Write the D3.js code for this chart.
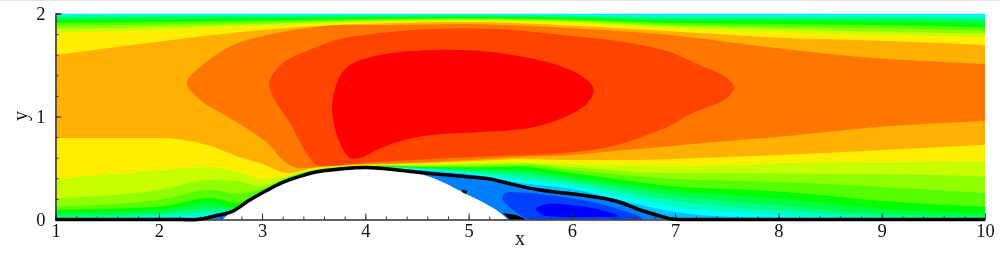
<!DOCTYPE html>
<html>
<head>
<meta charset="utf-8">
<script src="https://cdn.jsdelivr.net/npm/d3@7"></script>
<style>
  html, body { margin: 0; padding: 0; background: white; overflow: hidden; }
  svg { display: block; filter: blur(0.4px); }
  text { font-family: "Liberation Serif", serif; fill: #111; }
</style>
</head>
<body>
<script>
// contour bands that run the whole length of the channel, y read at these x
var lowerX = [1, 2, 2.5, 2.75, 3, 3.25, 3.5, 4, 4.5, 5, 5.5, 6, 6.5, 7, 7.5, 8, 9, 10];
var upperX = [1, 2, 3, 4, 5, 6, 7, 8, 9, 10];

// lower edge of each band, lowest level first
var lowerCyan   = [.007,.017,.024,.102,.261,.388,.461,.510,.481,.442,.354,.296,.180,.073,.027,.015,.005,.002];
var lowerTeal   = [.012,.027,.044,.104,.263,.390,.463,.512,.488,.451,.383,.325,.218,.121,.073,.044,.010,.005];
var lowerMint   = [.021,.044,.073,.105,.265,.393,.465,.514,.494,.461,.416,.354,.267,.180,.126,.087,.029,.015];
var lowerSpring = [.037,.060,.112,.107,.267,.396,.467,.516,.500,.476,.451,.383,.306,.228,.180,.136,.053,.029];
var lowerGreen  = [.063,.092,.160,.112,.272,.399,.469,.517,.506,.490,.481,.413,.345,.277,.238,.204,.102,.063];
var lowerLime   = [.092,.124,.209,.160,.277,.403,.471,.520,.512,.505,.513,.451,.383,.320,.296,.272,.180,.124];
var lowerChart  = [.124,.189,.286,.252,.296,.406,.476,.523,.517,.519,.529,.481,.432,.393,.379,.364,.316,.257];
var lowerPear   = [.209,.286,.383,.374,.325,.413,.481,.526,.524,.534,.544,.510,.471,.451,.451,.447,.442,.416];
var lowerYellow = [.393,.481,.510,.471,.393,.422,.490,.529,.534,.549,.558,.539,.529,.519,.529,.549,.558,.568];
var lowerAmber  = [.791,.791,.714,.617,.539,.451,.500,.534,.544,.563,.587,.578,.578,.587,.607,.626,.675,.726];

// upper edge of each band
var upperCyan   = [1.992,1.995,1.995,1.995,1.995,1.993,1.990,1.990,1.992,1.992];
var upperTeal   = [1.983,1.985,1.985,1.985,1.987,1.983,1.976,1.976,1.976,1.969];
var upperMint   = [1.971,1.976,1.976,1.978,1.981,1.976,1.961,1.961,1.963,1.953];
var upperSpring = [1.956,1.961,1.966,1.970,1.974,1.966,1.947,1.947,1.944,1.930];
var upperGreen  = [1.937,1.942,1.951,1.960,1.966,1.956,1.927,1.927,1.920,1.898];
var upperLime   = [1.908,1.917,1.932,1.947,1.953,1.942,1.908,1.898,1.888,1.866];
var upperChart  = [1.879,1.893,1.913,1.937,1.947,1.930,1.888,1.869,1.856,1.833];
var upperPear   = [1.850,1.869,1.898,1.927,1.937,1.920,1.874,1.850,1.823,1.806];
var upperYellow = [1.811,1.840,1.879,1.913,1.927,1.911,1.854,1.820,1.791,1.775];
var upperAmber  = [1.597,1.726,1.840,1.898,1.917,1.882,1.825,1.765,1.736,1.694];

var bandColors = ["#00ffff", "#00ffc0", "#00ff80", "#00ff40", "#00ff00",
                  "#55ff00", "#90ff00", "#c8ff00", "#ffee00", "#ffb000"];

// the inner contours are blobs, so they get their own outlines
var orangeOutline = [[10,1.510],[8.79,1.578],[7.82,1.684],[6.95,1.791],[5.88,1.864],[4.98,1.898],[4.63,1.893],
    [4,1.888],[3.75,1.888],[3.37,1.850],[3.05,1.791],[2.72,1.694],[2.40,1.481],[2.27,1.325],[2.40,1.160],[2.72,.966],
    [3.05,.743],[3.20,.578],[3.34,.500],[3.53,.510],[4,.539],[4.5,.553],[5,.578],[5.5,.607],[6,.626],[6.5,.675],
    [7,.717],[7.5,.762],[8,.804],[9,.901],[10,.956]];
var scarletOutline = [[3.07,1.325],[3.20,1.519],[3.53,1.675],[3.75,1.752],[3.98,1.791],[4.63,1.850],[5.27,1.850],
    [5.91,1.791],[6.56,1.714],[6.95,1.626],[7.17,1.529],[7.50,1.374],[7.57,1.286],[7.50,1.180],[7.17,1.034],[6.90,.888],
    [6.40,.714],[5.91,.646],[5.27,.617],[4.63,.587],[3.98,.549],[3.66,.522],[3.53,.529],[3.43,.646],[3.27,.937],[3.14,1.131]];
var redOutline = [[3.68,1.131],[3.75,1.383],[3.85,1.500],[4.14,1.597],[4.63,1.646],[5.11,1.636],[5.59,1.568],[5.91,1.481],
    [6.11,1.383],[6.21,1.267],[6.15,1.131],[5.91,.985],[5.59,.888],[5.11,.850],[4.63,.820],[4.31,.752],[4.07,.655],
    [3.98,.607],[3.86,.594],[3.81,.640],[3.73,.801],[3.69,.966]];

// reversed flow under the black line
var wedgeOutline = [[2.37,0],[2.54,.034],[2.70,.073],[2.62,0]];
var bubbleOutline = [[4.33,.478],[4.65,.444],[4.98,.416],[5.21,.393],[5.37,.354],[5.69,.286],[6.01,.248],[6.34,.199],
    [6.46,.170],[6.66,.092],[6.82,.044],[6.97,.005],[7.07,0],[4.33,0]];
var bubbleMidOutline = [[5.33,.218],[5.35,.257],[5.59,.257],[5.91,.218],[6.24,.160],[6.66,.024],[6.68,0],[6.27,0],
    [5.59,0],[5.47,.063],[5.33,.190]];
var bubbleCoreOutline = [[5.65,.102],[5.76,.150],[5.98,.141],[6.24,.102],[6.45,.034],[6.24,.024],[5.91,.024],[5.72,.044]];

// solid body and the zero-velocity line
var hillOutline = [[2.62,0],[2.70,.073],[2.88,.189],[3,.257],[3.20,.360],[3.37,.420],[3.53,.464],[3.75,.490],
    [4.01,.505],[4.33,.478],[4.63,.413],[4.94,.267],[5.27,.092],[5.38,0]];
var blackLine = [[1,0],[2.2,0],[2.37,0],[2.54,.034],[2.70,.073],[2.88,.189],[3,.257],[3.20,.360],[3.37,.420],[3.53,.464],
    [3.75,.490],[4.01,.505],[4.33,.478],[4.65,.444],[4.98,.416],[5.21,.393],[5.37,.354],[5.69,.286],[6.01,.248],
    [6.34,.199],[6.46,.170],[6.66,.092],[6.82,.044],[6.97,.005],[7.07,0],[7.3,0],[10,0]];
var speckLine = [[4.94,.28],[4.98,.26]];
var blobOutline = [[5.33,.063],[5.46,.044],[5.53,.015],[5.55,0],[5.40,0]];

var xTicks = [1, 2, 3, 4, 5, 6, 7, 8, 9, 10];
var yTicks = [0, 1, 2];
var xMinorTicks = d3.range(1, 10.01, 0.2);
var yMinorTicks = d3.range(0, 2.01, 0.2);

var width = 1000, height = 256;
var x = d3.scaleLinear().domain([1, 10]).range([55.5, 985]);
var y = d3.scaleLinear().domain([0, 2]).range([219.5, 13.5]);

var svg = d3.select("body").append("svg").attr("width", width).attr("height", height);

// thin grey edge along the top of the picture
svg.append("rect").attr("width", width).attr("height", 1).attr("fill", "#e2e2e2");

svg.append("clipPath").attr("id", "plotClip").append("rect")
    .attr("x", x(1)).attr("y", y(2)).attr("width", x(10) - x(1)).attr("height", y(0) - y(2));

var field = svg.append("g").attr("clip-path", "url(#plotClip)");

// lowest level is the background, each band paints over it
field.append("rect")
    .attr("x", x(1)).attr("y", y(2)).attr("width", x(10) - x(1)).attr("height", y(0) - y(2))
    .attr("fill", "#00bfff");

var smooth = d3.line().x(d => x(d[0])).y(d => y(d[1])).curve(d3.curveMonotoneX);
var round = d3.line().x(d => x(d[0])).y(d => y(d[1])).curve(d3.curveCatmullRomClosed.alpha(0.5));
var open = d3.line().x(d => x(d[0])).y(d => y(d[1])).curve(d3.curveCatmullRom.alpha(0.5));
var straight = d3.line().x(d => x(d[0])).y(d => y(d[1]));

var lowers = [lowerCyan, lowerTeal, lowerMint, lowerSpring, lowerGreen, lowerLime, lowerChart, lowerPear, lowerYellow, lowerAmber];
var uppers = [upperCyan, upperTeal, upperMint, upperSpring, upperGreen, upperLime, upperChart, upperPear, upperYellow, upperAmber];

bandColors.forEach(function(color, i) {
    var bottom = smooth(lowerX.map((v, k) => [v, lowers[i][k]]));
    var top = smooth(upperX.map((v, k) => [v, uppers[i][k]]).reverse());
    field.append("path")
        .attr("d", bottom + "L" + top.slice(1) + "Z")
        .attr("fill", color);
});

// orange reaches the outlet so its path stays open, fill closes it along x = 10
field.append("path").attr("d", open(orangeOutline)).attr("fill", "#ff7700");
field.append("path").attr("d", round(scarletOutline)).attr("fill", "#ff4400");
field.append("path").attr("d", round(redOutline)).attr("fill", "#ff0000");

field.append("path").attr("d", straight(wedgeOutline)).attr("fill", "#0080ff");
field.append("path").attr("d", straight(bubbleOutline)).attr("fill", "#0080ff");
field.append("path").attr("d", round(bubbleMidOutline)).attr("fill", "#0040ff");
field.append("path").attr("d", round(bubbleCoreOutline)).attr("fill", "#0000ff");
field.append("path").attr("d", open(hillOutline)).attr("fill", "white");

// axes, ticks point into the plot
function styleAxis(g) {
    g.select(".domain").attr("stroke", "#333").attr("stroke-width", 1);
    g.selectAll("line").attr("stroke", "#333").attr("stroke-width", 1);
    g.selectAll("text").attr("font-size", 18.5).attr("fill", "#111");
}

svg.append("g").attr("transform", "translate(0," + y(0) + ")")
    .call(d3.axisBottom(x).tickValues(xMinorTicks).tickSize(-3).tickFormat(""))
    .call(styleAxis);
svg.append("g").attr("transform", "translate(0," + y(0) + ")")
    .call(d3.axisBottom(x).tickValues(xTicks).tickSize(-6).tickPadding(4).tickFormat(d3.format("d")))
    .call(styleAxis);
svg.append("g").attr("transform", "translate(" + x(1) + ",0)")
    .call(d3.axisLeft(y).tickValues(yMinorTicks).tickSize(-3).tickFormat(""))
    .call(styleAxis);
svg.append("g").attr("transform", "translate(" + x(1) + ",0)")
    .call(d3.axisLeft(y).tickValues(yTicks).tickSize(-6).tickPadding(10).tickFormat(d3.format("d")))
    .call(styleAxis);

// black line on top of everything
svg.append("path").attr("d", open(blackLine))
    .attr("fill", "none").attr("stroke", "black").attr("stroke-width", 3.5);
svg.append("path").attr("d", straight(speckLine))
    .attr("fill", "none").attr("stroke", "black").attr("stroke-width", 3);
svg.append("path").attr("d", straight(blobOutline)).attr("fill", "black");

svg.append("text").attr("x", 520).attr("y", 245)
    .attr("text-anchor", "middle").attr("font-size", 20).text("x");
svg.append("text").attr("transform", "translate(27,116) rotate(-90)")
    .attr("text-anchor", "middle").attr("font-size", 20).text("y");
</script>
</body>
</html>
